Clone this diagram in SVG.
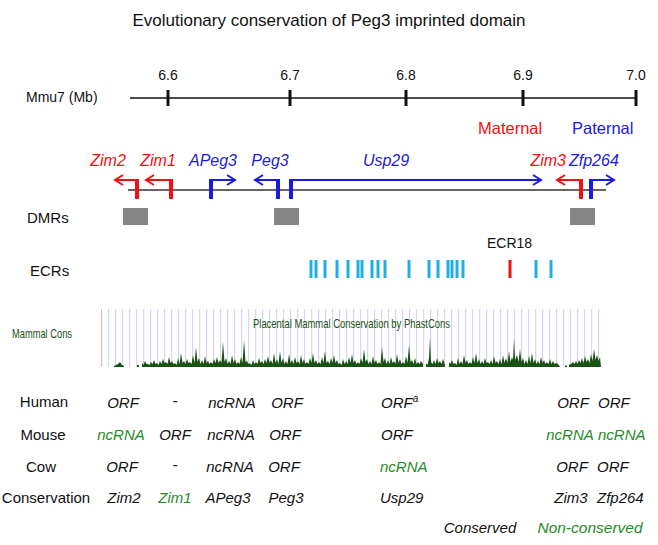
<svg xmlns="http://www.w3.org/2000/svg" width="658" height="545" viewBox="0 0 658 545">
<style>
text{font-family:"Liberation Sans",Arial,sans-serif;fill:#111}
.title{font-size:17px}
.tick{font-size:14px;text-anchor:middle}
.lab{font-size:15px}
.row{font-size:15px;text-anchor:middle}
.it{font-size:15px;font-style:italic}
.gene{font-size:16px;font-style:italic}
.red{fill:#ee1111}
.blue{fill:#1a1ae0}
.grn{fill:#1f8c1f}
.rs{stroke:#ee1111}
.bs{stroke:#1a1ae0}
.bar{stroke-width:4;fill:none}
.arm{stroke-width:2;fill:none}
.ecr{stroke:#1eaee6;stroke-width:3}
.dmr{fill:#858585}
.ucsc{font-size:13px;fill:#1b5214}
</style>
<defs>
<marker id="ahR" markerUnits="userSpaceOnUse" markerWidth="12" markerHeight="14" viewBox="0 0 12 14" refX="10" refY="7" orient="auto"><path d="M2,2 L10,7 L2,12" fill="none" stroke="#ee1111" stroke-width="2"/></marker>
<marker id="ahB" markerUnits="userSpaceOnUse" markerWidth="12" markerHeight="14" viewBox="0 0 12 14" refX="10" refY="7" orient="auto"><path d="M2,2 L10,7 L2,12" fill="none" stroke="#1a1ae0" stroke-width="2"/></marker>
<pattern id="grid" x="101" y="0" width="7" height="545" patternUnits="userSpaceOnUse"><rect x="0" y="0" width="1.2" height="545" fill="#d6d6f2"/></pattern>
</defs>

<text class="title" x="329" y="26" text-anchor="middle">Evolutionary conservation of Peg3 imprinted domain</text>

<g id="scale">
<text class="lab" x="26" y="102" style="font-size:14px">Mmu7 (Mb)</text>
<line x1="130" y1="98" x2="636" y2="98" stroke="#111" stroke-width="1.5"/>
<g stroke="#111" stroke-width="3">
<line x1="168" y1="90" x2="168" y2="106"/>
<line x1="290" y1="90" x2="290" y2="106"/>
<line x1="406" y1="90" x2="406" y2="106"/>
<line x1="523" y1="90" x2="523" y2="106"/>
<line x1="636" y1="90" x2="636" y2="106"/>
</g>
<text class="tick" x="168" y="80">6.6</text>
<text class="tick" x="290" y="80">6.7</text>
<text class="tick" x="406" y="80">6.8</text>
<text class="tick" x="523" y="80">6.9</text>
<text class="tick" x="636" y="80">7.0</text>
</g>

<g id="legend">
<text class="red" x="478" y="134" style="font-size:16.5px">Maternal</text>
<text class="blue" x="572" y="134" style="font-size:16.5px">Paternal</text>
</g>

<g id="backbone"><line x1="128" y1="190" x2="606" y2="190" stroke="#333" stroke-width="1.5"/></g>

<g id="Zim2">
<text class="gene red" x="108" y="166" text-anchor="middle">Zim2</text>
<line class="bar rs" x1="137" y1="179" x2="137" y2="199"/>
<polyline class="arm rs" points="138,180 115,180" marker-end="url(#ahR)"/>
</g>
<g id="Zim1">
<text class="gene red" x="158" y="166" text-anchor="middle">Zim1</text>
<line class="bar rs" x1="171" y1="179" x2="171" y2="199"/>
<polyline class="arm rs" points="172,180 146,180" marker-end="url(#ahR)"/>
</g>
<g id="APeg3">
<text class="gene blue" x="213" y="166" text-anchor="middle">APeg3</text>
<line class="bar bs" x1="211" y1="179" x2="211" y2="199"/>
<polyline class="arm bs" points="210,180 235,180" marker-end="url(#ahB)"/>
</g>
<g id="Peg3">
<text class="gene blue" x="270" y="166" text-anchor="middle">Peg3</text>
<line class="bar bs" x1="278" y1="179" x2="278" y2="199"/>
<polyline class="arm bs" points="279,180 255,180" marker-end="url(#ahB)"/>
</g>
<g id="Usp29">
<text class="gene blue" x="386" y="166" text-anchor="middle">Usp29</text>
<line class="bar bs" x1="291" y1="179" x2="291" y2="199"/>
<polyline class="arm bs" points="290,180 541,180" marker-end="url(#ahB)"/>
</g>
<g id="Zim3">
<text class="gene red" x="566" y="166" text-anchor="end">Zim3</text>
<line class="bar rs" x1="581" y1="179" x2="581" y2="199"/>
<polyline class="arm rs" points="582,180 557,180" marker-end="url(#ahR)"/>
</g>
<g id="Zfp264">
<text class="gene blue" x="569" y="166">Zfp264</text>
<line class="bar bs" x1="591" y1="179" x2="591" y2="199"/>
<polyline class="arm bs" points="590,180 614,180" marker-end="url(#ahB)"/>
</g>

<g id="DMRs">
<text class="lab" x="27" y="223">DMRs</text>
<rect class="dmr" x="123" y="208" width="25" height="17"/>
<rect class="dmr" x="274" y="208" width="25" height="17"/>
<rect class="dmr" x="570" y="208" width="25" height="17"/>
</g>

<g id="ECRs">
<text class="lab" x="30" y="276">ECRs</text>
<text class="lab" x="487" y="248" style="font-size:14px">ECR18</text>
<g class="ecr">
<line x1="311" y1="260" x2="311" y2="278"/>
<line x1="316" y1="260" x2="316" y2="278"/>
<line x1="325" y1="260" x2="325" y2="278"/>
<line x1="337" y1="260" x2="337" y2="278"/>
<line x1="348" y1="260" x2="348" y2="278"/>
<line x1="358" y1="260" x2="358" y2="278"/>
<line x1="362" y1="260" x2="362" y2="278"/>
<line x1="372" y1="260" x2="372" y2="278"/>
<line x1="378" y1="260" x2="378" y2="278"/>
<line x1="385" y1="260" x2="385" y2="278"/>
<line x1="409" y1="260" x2="409" y2="278"/>
<line x1="429" y1="260" x2="429" y2="278"/>
<line x1="438" y1="260" x2="438" y2="278"/>
<line x1="448" y1="260" x2="448" y2="278"/>
<line x1="452" y1="260" x2="452" y2="278"/>
<line x1="457" y1="260" x2="457" y2="278"/>
<line x1="463" y1="260" x2="463" y2="278"/>
<line x1="536" y1="260" x2="536" y2="278"/>
<line x1="551" y1="260" x2="551" y2="278"/>
</g>
<line x1="510" y1="260" x2="510" y2="278" stroke="#ee1111" stroke-width="3"/>
</g>

<g id="MammalCons">
<rect x="101" y="309" width="500" height="58" fill="url(#grid)"/>
<rect x="101" y="309" width="1" height="58" fill="#f2b0a4"/>
<text class="ucsc" x="12" y="338" textLength="60" lengthAdjust="spacingAndGlyphs">Mammal Cons</text>
<text class="ucsc" x="253" y="328" textLength="197" lengthAdjust="spacingAndGlyphs">Placental Mammal Conservation by PhastCons</text>
<g fill="#1a5214">
<polygon points="114,367 114,366 116,365 118,364 120,362 122,365 124,366 124,367"/>
<rect x="137" y="365" width="2" height="2"/>
<polygon points="142,367 142,363 143.5,365 145,361 146.5,364 148,364 149.5,365 151,362 152.5,364 154,360 155.5,364 157,363 158.5,365 160,361 161.5,364 163,359 164.5,363 166,362 167.5,364 169,357 170.5,363 172,361 173.5,364 175,363 176.5,365 178,358 179.5,364 181,353 182.5,363 184,361 185.5,364 187,359 188.5,363 190,362 191.5,364 193,355 194.5,363 196,347 197.5,362 199,358 200.5,364 202,360 203.5,364 205,356 206.5,363 208,361 209.5,364 211,362 212.5,364 214,359 215.5,363 217,357 218.5,363 220,360 221.5,363 223,342 224.5,362 226,358 227.5,364 229,361 230.5,364 232,355 233.5,363 235,359 236.5,364 238,362 239.5,364 241,357 242.5,363 244,340 245.5,362 247,361 248.5,364 250,363 251.5,365 253,360 254.5,364 256,362 257.5,364 259,358 260.5,363 262,361 263.5,364 265,359 266.5,363 268,356 269.5,363 271,360 272.5,364 274,353 275.5,363 277,359 278.5,364 280,351 281.5,363 283,358 284.5,364 286,361 287.5,364 289,354 290.5,363 292,360 293.5,364 295,357 296.5,363 298,361 299.5,364 301,355 302.5,363 304,359 305.5,364 307,362 308.5,364 310,358 311.5,363 313,353 314.5,363 316,360 317.5,364 319,362 320.5,364 322,357 323.5,363 325,351 326.5,363 328,361 329.5,364 331,358 332.5,363 334,355 335.5,363 337,360 338.5,364 340,363 341.5,365 343,359 344.5,364 346,361 347.5,364 349,357 350.5,363 352,354 353.5,363 355,360 356.5,364 358,362 359.5,364 361,358 362.5,363 364,349 365.5,362 367,359 368.5,364 370,361 371.5,364 373,356 374.5,363 376,360 377.5,364 379,362 380.5,364 382,347 383.5,362 385,358 386.5,364 388,360 389.5,364 391,357 392.5,363 394,361 395.5,364 397,354 398.5,363 400,359 401.5,364 403,362 404.5,364 406,356 407.5,363 409,345 410.5,362 412,360 413.5,364 415,358 416.5,364 418,362 419.5,364 421,361 423,364 423,367"/>
<polygon points="426,367 426,363 427.5,365 429,358 430,337 431,362 432.5,364 434,360 435.5,364 437,358 438.5,363 440,361 441.5,364 443,359 444.5,363 445,367"/>
<polygon points="449,367 449,362 450.5,364 452,360 453.5,364 455,363 456.5,365 458,358 459.5,364 461,361 462.5,364 464,355 465.5,363 467,360 468.5,364 470,362 471.5,364 473,357 474.5,363 476,353 477.5,363 479,359 480.5,364 482,361 483.5,364 485,358 486.5,363 488,362 489.5,364 491,360 492.5,364 494,356 495.5,363 497,361 498.5,364 500,359 501.5,364 503,355 504.5,363 506,358 507.5,363 509,351 510.5,362 512,357 513,360 514,338 515,360 517,355 518.5,362 520,349 521.5,362 523,358 524.5,364 526,360 527.5,364 529,356 530.5,363 532,353 533.5,363 535,359 536.5,364 538,361 539.5,364 541,357 542.5,363 544,360 545.5,364 547,362 548.5,364 550,359 551.5,364 553,361 554.5,364 556,363 558,364 560,367"/>
<rect x="565" y="365.5" width="2" height="1.5"/>
<polygon points="569,367 569,365 571,364 573,362 574.5,364 576,361 577.5,364 579,360 580.5,363 582,358 583.5,363 585,356 586.5,362 588,359 589.5,363 591,354 592.5,361 594,349 595.5,360 597,355 598.5,361 600,357 601,367"/>
</g>
</g>

<g id="table">
<text class="row" x="44" y="407">Human</text>
<text class="row" x="43" y="440">Mouse</text>
<text class="row" x="41" y="472">Cow</text>
<text class="row" x="46" y="503">Conservation</text>

<text class="it" x="123" y="408" text-anchor="middle">ORF</text>
<text class="it" x="175" y="406" text-anchor="middle">-</text>
<text class="it" x="232" y="408" text-anchor="middle">ncRNA</text>
<text class="it" x="287" y="408" text-anchor="middle">ORF</text>
<text class="it" x="381" y="408">ORF<tspan dy="-6" style="font-size:10px">a</tspan></text>
<text class="it" x="573" y="408" text-anchor="middle">ORF</text>
<text class="it" x="598" y="408">ORF</text>

<text class="it grn" x="121" y="440" text-anchor="middle">ncRNA</text>
<text class="it" x="175" y="440" text-anchor="middle">ORF</text>
<text class="it" x="231" y="440" text-anchor="middle">ncRNA</text>
<text class="it" x="285" y="440" text-anchor="middle">ORF</text>
<text class="it" x="381" y="440">ORF</text>
<text class="it grn" x="570" y="440" text-anchor="middle">ncRNA</text>
<text class="it grn" x="598" y="440">ncRNA</text>

<text class="it" x="122" y="472" text-anchor="middle">ORF</text>
<text class="it" x="175" y="470" text-anchor="middle">-</text>
<text class="it" x="230" y="472" text-anchor="middle">ncRNA</text>
<text class="it" x="284" y="472" text-anchor="middle">ORF</text>
<text class="it grn" x="380" y="472">ncRNA</text>
<text class="it" x="572" y="472" text-anchor="middle">ORF</text>
<text class="it" x="597" y="472">ORF</text>

<text class="it" x="124" y="503" text-anchor="middle">Zim2</text>
<text class="it grn" x="175" y="503" text-anchor="middle">Zim1</text>
<text class="it" x="228" y="503" text-anchor="middle">APeg3</text>
<text class="it" x="286" y="503" text-anchor="middle">Peg3</text>
<text class="it" x="380" y="503">Usp29</text>
<text class="it" x="571" y="503" text-anchor="middle">Zim3</text>
<text class="it" x="597" y="503">Zfp264</text>

<text class="it" x="480" y="533" text-anchor="middle">Conserved</text>
<text class="it grn" x="590" y="533" text-anchor="middle" style="font-size:15.5px">Non-conserved</text>
</g>
</svg>
